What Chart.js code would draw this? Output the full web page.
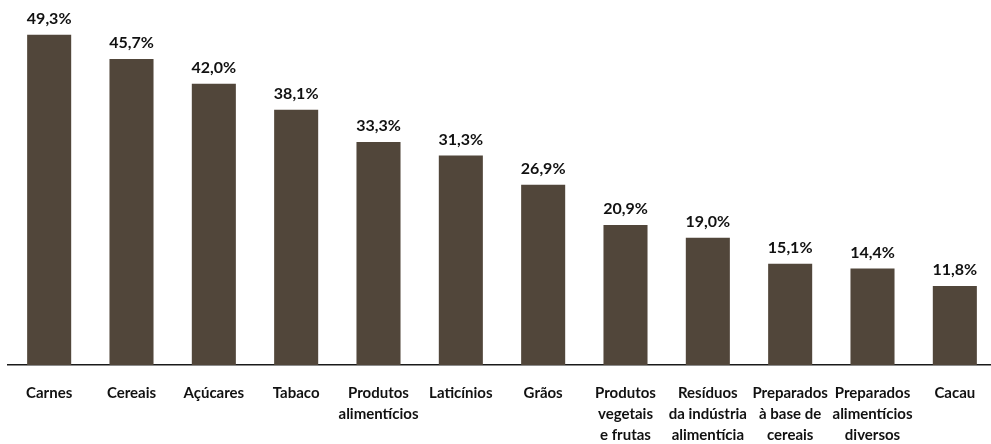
<!DOCTYPE html>
<html>
<head>
<meta charset="utf-8">
<script src="https://cdn.jsdelivr.net/npm/chart.js@4/dist/chart.umd.min.js"></script>
<style>
html,body{margin:0;padding:0;background:#fff;overflow:hidden;width:991px;height:444px;}
canvas{display:block;}
</style>
</head>
<body>
<canvas id="c" width="996" height="444"></canvas>
<script>
const categories = [
  ["Carnes"],
  ["Cereais"],
  ["Açúcares"],
  ["Tabaco"],
  ["Produtos", "alimentícios"],
  ["Laticínios"],
  ["Grãos"],
  ["Produtos", "vegetais", "e frutas"],
  ["Resíduos", "da indústria", "alimentícia"],
  ["Preparados", "à base de", "cereais"],
  ["Preparados", "alimentícios", "diversos"],
  ["Cacau"]
];
const values = [49.3, 45.7, 42.0, 38.1, 33.3, 31.3, 26.9, 20.9, 19.0, 15.1, 14.4, 11.8];
const valueLabels = values.map(v => v.toFixed(1).replace('.', ',') + '%');

const FONT = "Lato, 'Open Sans', sans-serif";

const valueLabelPlugin = {
  id: 'valueLabels',
  afterDatasetsDraw(chart) {
    const ctx = chart.ctx;
    const meta = chart.getDatasetMeta(0);
    ctx.save();
    ctx.font = "bold 16px " + FONT;
    ctx.fillStyle = '#111111';
    ctx.textAlign = 'center';
    ctx.textBaseline = 'bottom';
    meta.data.forEach((bar, i) => {
      ctx.fillText(valueLabels[i], bar.x, bar.y - 8);
    });
    ctx.restore();
  }
};

new Chart(document.getElementById('c'), {
  type: 'bar',
  data: {
    labels: categories,
    datasets: [{
      data: values,
      backgroundColor: '#51463a',
      borderWidth: 0,
      barPercentage: 0.535,
      categoryPercentage: 1.0
    }]
  },
  options: {
    responsive: false,
    animation: false,
    layout: { padding: { left: 8, right: 0, top: 0, bottom: 0 } },
    plugins: {
      legend: { display: false },
      tooltip: { enabled: false }
    },
    scales: {
      x: {
        grid: { display: false, drawTicks: false },
        border: { display: true, color: '#1a1a1a', width: 1.5 },
        ticks: {
          color: '#111111',
          font: { family: FONT, size: 15, weight: 'bold', lineHeight: '21px' },
          padding: 18,
          maxRotation: 0,
          autoSkip: false
        },
        afterFit(scale) { scale.height = 79; }
      },
      y: {
        display: false,
        min: 0,
        max: 54.5
      }
    }
  },
  plugins: [valueLabelPlugin]
});
</script>
</body>
</html>
